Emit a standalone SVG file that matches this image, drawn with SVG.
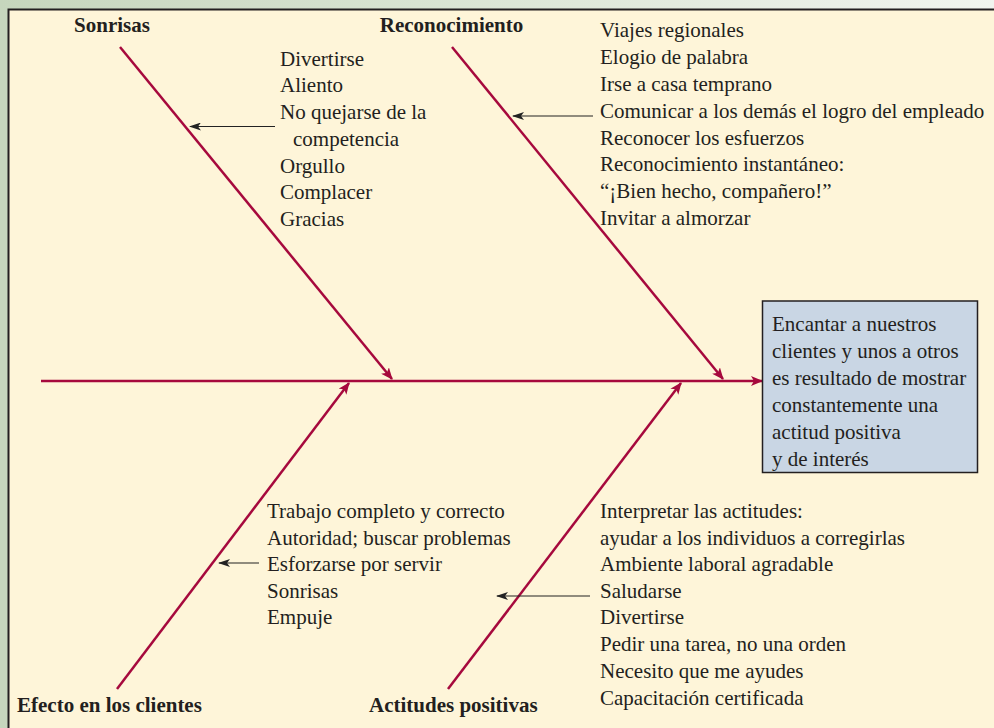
<svg xmlns="http://www.w3.org/2000/svg" width="994" height="728" viewBox="0 0 994 728">
<defs>
<linearGradient id="topg" x1="0" y1="0" x2="1" y2="0">
<stop offset="0" stop-color="#c6d6bd"/>
<stop offset="1" stop-color="#f1f5ef"/>
</linearGradient>
<marker id="ra" viewBox="0 0 12 10" refX="11" refY="5" markerWidth="12" markerHeight="10" markerUnits="userSpaceOnUse" orient="auto">
<path d="M0,0 L12,5 L0,10 L3,5 Z" fill="#a6093d"/>
</marker>
<marker id="ka" viewBox="0 0 12 8" refX="1" refY="4" markerWidth="12" markerHeight="8" markerUnits="userSpaceOnUse" orient="auto">
<path d="M0,4 L12,0 L9,4 L12,8 Z" fill="#222"/>
</marker>
</defs>
<style>
.t{font-family:"Liberation Serif","Times New Roman",serif;font-size:21px;fill:#231f20}
.h{font-family:"Liberation Serif","Times New Roman",serif;font-size:21px;font-weight:bold;fill:#231f20}
.bone{stroke:#a6093d;stroke-width:2.5;fill:none;marker-end:url(#ra)}
.ka{stroke:#222;stroke-width:1.2;fill:none;marker-start:url(#ka)}
</style>
<rect x="0" y="0" width="994" height="728" fill="#c6d6bd"/>
<rect x="0" y="0" width="994" height="9" fill="url(#topg)"/>
<rect x="9" y="10" width="985" height="718" fill="#fef5d9"/>
<path d="M8.5,728 V9.5 H994" stroke="#231f20" stroke-width="2" fill="none"/>

<g id="connectors">
<line class="bone" x1="41" y1="381" x2="762" y2="381"/>
<line class="bone" x1="120" y1="47" x2="392" y2="379"/>
<line class="bone" x1="452" y1="47" x2="723" y2="379"/>
<line class="bone" x1="117" y1="689" x2="349" y2="383"/>
<line class="bone" x1="448" y1="689" x2="681" y2="383"/>
<line class="ka" x1="190" y1="126.5" x2="275" y2="126.5"/>
<line class="ka" x1="513" y1="116" x2="593" y2="116"/>
<line class="ka" x1="219" y1="563" x2="259" y2="563"/>
<line class="ka" x1="497" y1="596" x2="590" y2="596"/>
</g>

<g id="effect">
<rect x="762.5" y="301" width="215" height="171.5" fill="#c9d6e4" stroke="#231f20" stroke-width="1.5"/>
<text class="t" x="772" y="331">Encantar a nuestros</text>
<text class="t" x="772" y="358">clientes y unos a otros</text>
<text class="t" x="772" y="385">es resultado de mostrar</text>
<text class="t" x="772" y="412">constantemente una</text>
<text class="t" x="772" y="439">actitud positiva</text>
<text class="t" x="772" y="466">y de interés</text>
</g>

<g id="sonrisas">
<text class="h" x="112" y="32" text-anchor="middle">Sonrisas</text>
<text class="t" x="280" y="66">Divertirse</text>
<text class="t" x="280" y="92">Aliento</text>
<text class="t" x="280" y="119">No quejarse de la</text>
<text class="t" x="293" y="146">competencia</text>
<text class="t" x="280" y="173">Orgullo</text>
<text class="t" x="280" y="199">Complacer</text>
<text class="t" x="280" y="226">Gracias</text>
</g>

<g id="reconocimiento">
<text class="h" x="451.5" y="32" text-anchor="middle">Reconocimiento</text>
<text class="t" x="600" y="37">Viajes regionales</text>
<text class="t" x="600" y="64">Elogio de palabra</text>
<text class="t" x="600" y="91">Irse a casa temprano</text>
<text class="t" x="600" y="118">Comunicar a los demás el logro del empleado</text>
<text class="t" x="600" y="145">Reconocer los esfuerzos</text>
<text class="t" x="600" y="171">Reconocimiento instantáneo:</text>
<text class="t" x="600" y="198">“¡Bien hecho, compañero!”</text>
<text class="t" x="600" y="225">Invitar a almorzar</text>
</g>

<g id="efecto">
<text class="h" x="17" y="712">Efecto en los clientes</text>
<text class="t" x="267" y="518">Trabajo completo y correcto</text>
<text class="t" x="267" y="545">Autoridad; buscar problemas</text>
<text class="t" x="267" y="571">Esforzarse por servir</text>
<text class="t" x="267" y="598">Sonrisas</text>
<text class="t" x="267" y="624">Empuje</text>
</g>

<g id="actitudes">
<text class="h" x="369" y="712">Actitudes positivas</text>
<text class="t" x="600" y="518">Interpretar las actitudes:</text>
<text class="t" x="600" y="545">ayudar a los individuos a corregirlas</text>
<text class="t" x="600" y="571">Ambiente laboral agradable</text>
<text class="t" x="600" y="598">Saludarse</text>
<text class="t" x="600" y="624">Divertirse</text>
<text class="t" x="600" y="651">Pedir una tarea, no una orden</text>
<text class="t" x="600" y="678">Necesito que me ayudes</text>
<text class="t" x="600" y="705">Capacitación certificada</text>
</g>
</svg>
